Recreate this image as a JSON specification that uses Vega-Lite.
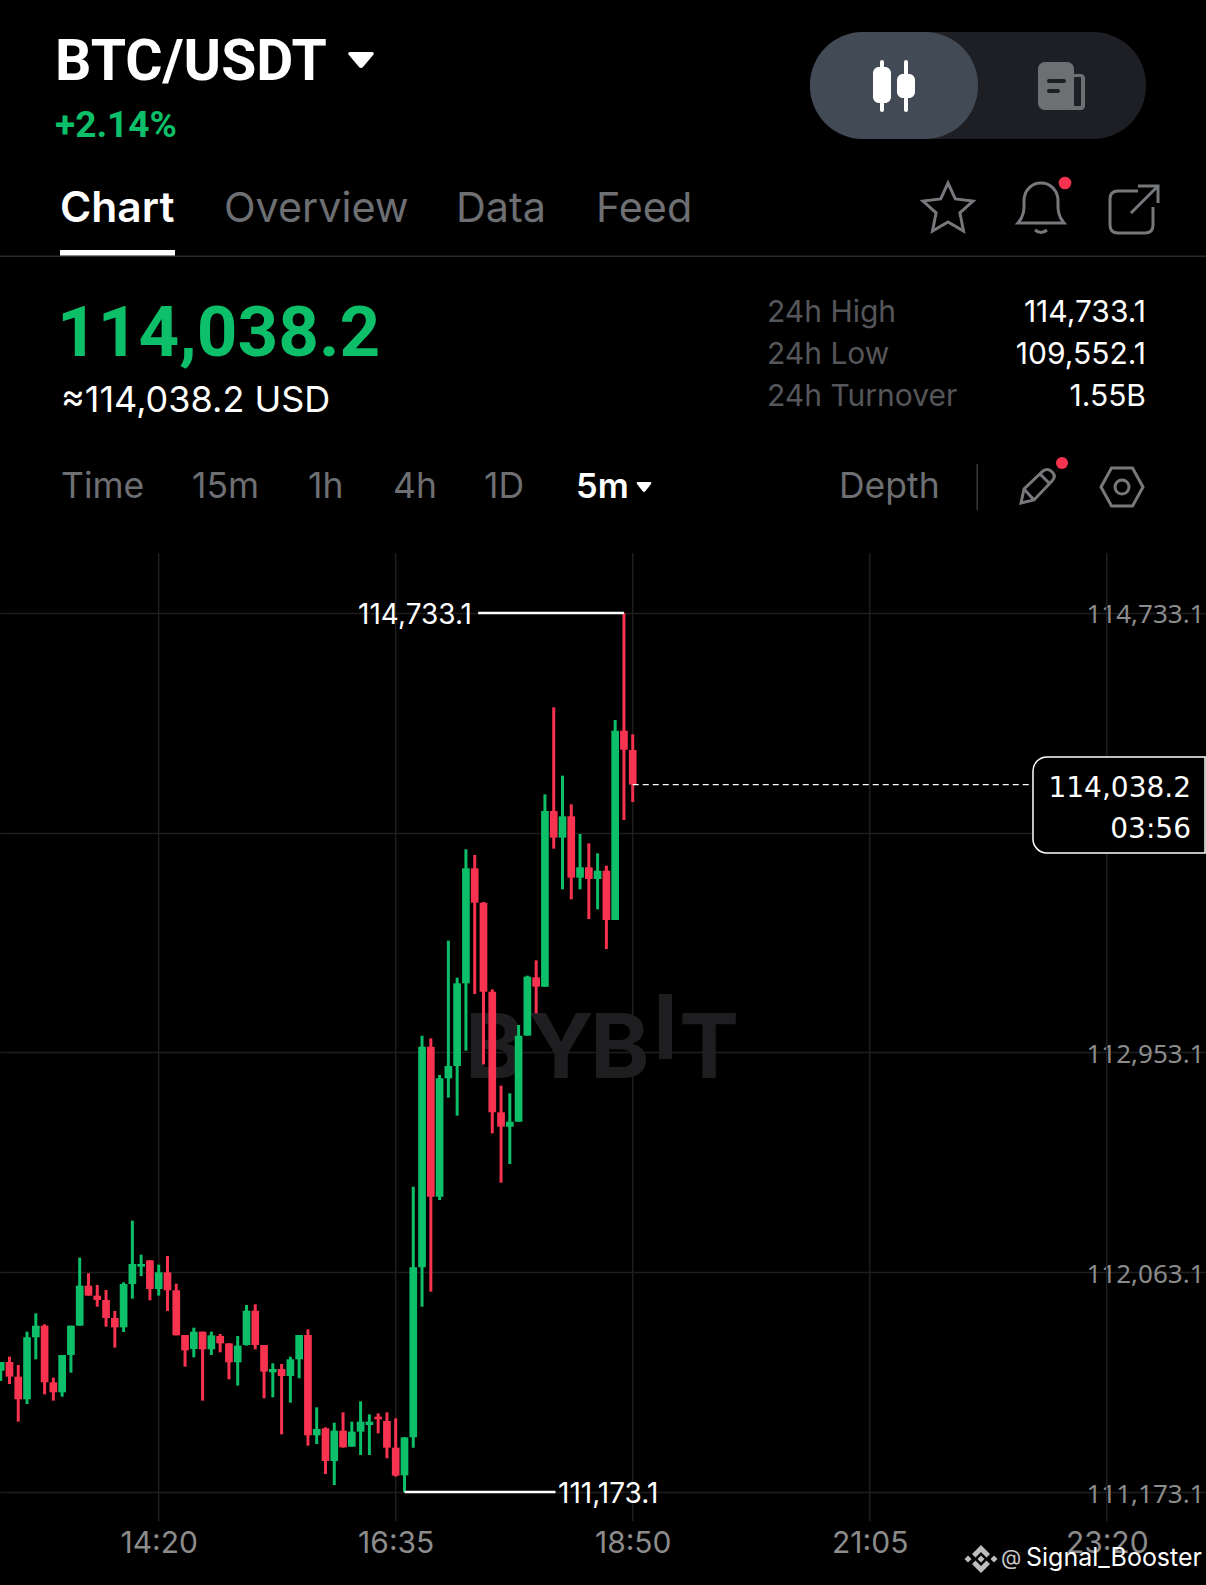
{
  "$schema": "https://vega.github.io/schema/vega-lite/v6.json",
  "width": 1206,
  "height": 1585,
  "padding": 0,
  "autosize": "none",
  "background": "#000000",
  "config": {
    "view": {"stroke": null},
    "style": {
      "head": {"font": "Roboto", "fontSize": 57, "fontWeight": 700, "color": "#ffffff", "align": "left", "baseline": "alphabetic"},
      "change": {"font": "Roboto", "fontSize": 37, "fontWeight": 700, "color": "#0CBF68", "align": "left", "baseline": "alphabetic"},
      "tabOn": {"font": "Inter", "fontSize": 42.5, "fontWeight": 600, "color": "#ffffff", "align": "left", "baseline": "alphabetic"},
      "tab": {"font": "Inter", "fontSize": 41.3, "fontWeight": 400, "color": "#6d6f72", "align": "left", "baseline": "alphabetic"},
      "price": {"font": "Roboto", "fontSize": 71, "fontWeight": 700, "color": "#0CBF68", "align": "left", "baseline": "alphabetic"},
      "usd": {"font": "Inter", "fontSize": 36, "fontWeight": 400, "color": "#ffffff", "align": "left", "baseline": "alphabetic"},
      "frame": {"font": "Inter", "fontSize": 35.5, "fontWeight": 400, "color": "#6d6f72", "align": "left", "baseline": "alphabetic"},
      "frameOn": {"font": "Inter", "fontSize": 34.5, "fontWeight": 600, "color": "#ffffff", "align": "left", "baseline": "alphabetic"},
      "statName": {"font": "Inter", "fontSize": 30, "fontWeight": 400, "color": "#55565a", "align": "left", "baseline": "alphabetic"},
      "statValue": {"font": "Inter", "fontSize": 30, "fontWeight": 400, "color": "#ffffff", "align": "right", "baseline": "alphabetic"},
      "mark": {"font": "Inter", "fontSize": 90, "fontWeight": 700, "color": "#1e1e20", "align": "left", "baseline": "alphabetic"},
      "foot": {"font": "Inter", "fontSize": 25, "fontWeight": 400, "color": "#ffffff", "align": "left", "baseline": "alphabetic"},
      "glyph": {"filled": false, "size": 4, "color": "#77787b", "strokeWidth": 3, "opacity": 1},
      "solid": {"filled": true, "opacity": 1}
    }
  },
  "datasets": {
    "candles": [
      {"t": "2025-09-02T12:50", "o": 111664.5, "h": 111699.6, "l": 111622.6, "c": 111699.6},
      {"t": "2025-09-02T12:55", "o": 111699.6, "h": 111721.2, "l": 111610.5, "c": 111640.2},
      {"t": "2025-09-02T13:00", "o": 111640.2, "h": 111687.5, "l": 111458.0, "c": 111548.4},
      {"t": "2025-09-02T13:05", "o": 111548.4, "h": 111822.5, "l": 111529.5, "c": 111799.5},
      {"t": "2025-09-02T13:10", "o": 111799.5, "h": 111896.7, "l": 111710.4, "c": 111846.8},
      {"t": "2025-09-02T13:15", "o": 111846.8, "h": 111852.2, "l": 111568.7, "c": 111617.3},
      {"t": "2025-09-02T13:20", "o": 111617.3, "h": 111636.2, "l": 111543.0, "c": 111576.8},
      {"t": "2025-09-02T13:25", "o": 111576.8, "h": 111728.0, "l": 111559.2, "c": 111728.0},
      {"t": "2025-09-02T13:30", "o": 111728.0, "h": 111846.8, "l": 111656.4, "c": 111846.8},
      {"t": "2025-09-02T13:35", "o": 111846.8, "h": 112122.2, "l": 111846.8, "c": 112008.8},
      {"t": "2025-09-02T13:40", "o": 112008.8, "h": 112058.7, "l": 111968.3, "c": 111968.3},
      {"t": "2025-09-02T13:45", "o": 111968.3, "h": 112011.5, "l": 111923.7, "c": 111950.7},
      {"t": "2025-09-02T13:50", "o": 111950.7, "h": 111991.2, "l": 111842.7, "c": 111877.8},
      {"t": "2025-09-02T13:55", "o": 111877.8, "h": 111906.2, "l": 111757.7, "c": 111840.0},
      {"t": "2025-09-02T14:00", "o": 111840.0, "h": 112022.3, "l": 111821.1, "c": 112015.5},
      {"t": "2025-09-02T14:05", "o": 112015.5, "h": 112272.0, "l": 111956.1, "c": 112096.5},
      {"t": "2025-09-02T14:10", "o": 112085.7, "h": 112134.3, "l": 112047.9, "c": 112096.5},
      {"t": "2025-09-02T14:15", "o": 112111.4, "h": 112111.4, "l": 111949.4, "c": 111995.3},
      {"t": "2025-09-02T14:20", "o": 111995.3, "h": 112093.8, "l": 111968.3, "c": 112062.8},
      {"t": "2025-09-02T14:25", "o": 112062.8, "h": 112128.9, "l": 111906.2, "c": 111989.9},
      {"t": "2025-09-02T14:30", "o": 111989.9, "h": 112016.9, "l": 111807.6, "c": 111807.6},
      {"t": "2025-09-02T14:35", "o": 111809.0, "h": 111809.0, "l": 111680.7, "c": 111746.9},
      {"t": "2025-09-02T14:40", "o": 111752.3, "h": 111838.7, "l": 111718.5, "c": 111822.5},
      {"t": "2025-09-02T14:45", "o": 111822.5, "h": 111822.5, "l": 111543.0, "c": 111750.9},
      {"t": "2025-09-02T14:50", "o": 111750.9, "h": 111822.5, "l": 111728.0, "c": 111807.6},
      {"t": "2025-09-02T14:55", "o": 111804.9, "h": 111813.0, "l": 111738.8, "c": 111775.2},
      {"t": "2025-09-02T15:00", "o": 111775.2, "h": 111775.2, "l": 111629.4, "c": 111698.3},
      {"t": "2025-09-02T15:05", "o": 111698.3, "h": 111804.9, "l": 111603.8, "c": 111765.8},
      {"t": "2025-09-02T15:10", "o": 111768.5, "h": 111930.5, "l": 111765.8, "c": 111907.5},
      {"t": "2025-09-02T15:15", "o": 111907.5, "h": 111933.2, "l": 111750.9, "c": 111768.5},
      {"t": "2025-09-02T15:20", "o": 111768.5, "h": 111768.5, "l": 111552.5, "c": 111660.5},
      {"t": "2025-09-02T15:25", "o": 111657.8, "h": 111694.2, "l": 111556.5, "c": 111671.3},
      {"t": "2025-09-02T15:30", "o": 111671.3, "h": 111691.5, "l": 111406.7, "c": 111642.9},
      {"t": "2025-09-02T15:35", "o": 111642.9, "h": 111721.2, "l": 111534.9, "c": 111710.4},
      {"t": "2025-09-02T15:40", "o": 111710.4, "h": 111809.0, "l": 111633.5, "c": 111809.0},
      {"t": "2025-09-02T15:45", "o": 111809.0, "h": 111831.9, "l": 111360.8, "c": 111402.6},
      {"t": "2025-09-02T15:50", "o": 111402.6, "h": 111516.0, "l": 111367.5, "c": 111428.3},
      {"t": "2025-09-02T15:55", "o": 111431.0, "h": 111435.0, "l": 111246.0, "c": 111298.7},
      {"t": "2025-09-02T16:00", "o": 111298.7, "h": 111453.9, "l": 111201.5, "c": 111421.5},
      {"t": "2025-09-02T16:05", "o": 111421.5, "h": 111495.8, "l": 111352.7, "c": 111354.0},
      {"t": "2025-09-02T16:10", "o": 111356.7, "h": 111458.0, "l": 111356.7, "c": 111417.5},
      {"t": "2025-09-02T16:15", "o": 111417.5, "h": 111540.3, "l": 111323.0, "c": 111458.0},
      {"t": "2025-09-02T16:20", "o": 111444.5, "h": 111487.7, "l": 111323.0, "c": 111458.0},
      {"t": "2025-09-02T16:25", "o": 111478.2, "h": 111491.7, "l": 111410.7, "c": 111467.4},
      {"t": "2025-09-02T16:30", "o": 111460.7, "h": 111495.8, "l": 111309.5, "c": 111352.7},
      {"t": "2025-09-02T16:35", "o": 111352.7, "h": 111471.5, "l": 111235.2, "c": 111239.3},
      {"t": "2025-09-02T16:40", "o": 111240.6, "h": 111394.5, "l": 111173.1, "c": 111394.5},
      {"t": "2025-09-02T16:45", "o": 111394.5, "h": 112409.7, "l": 111352.7, "c": 112083.0},
      {"t": "2025-09-02T16:50", "o": 112083.0, "h": 113021.3, "l": 111923.7, "c": 112976.7},
      {"t": "2025-09-02T16:55", "o": 112976.7, "h": 113010.5, "l": 111984.4, "c": 112369.2},
      {"t": "2025-09-02T17:00", "o": 112369.2, "h": 112862.0, "l": 112355.7, "c": 112848.5},
      {"t": "2025-09-02T17:05", "o": 112848.5, "h": 113406.0, "l": 112770.2, "c": 112898.4},
      {"t": "2025-09-02T17:10", "o": 112898.4, "h": 113256.2, "l": 112697.3, "c": 113233.2},
      {"t": "2025-09-02T17:15", "o": 113233.2, "h": 113775.9, "l": 112960.5, "c": 113699.0},
      {"t": "2025-09-02T17:20", "o": 113699.0, "h": 113753.0, "l": 113190.0, "c": 113559.9},
      {"t": "2025-09-02T17:25", "o": 113559.9, "h": 113562.6, "l": 112905.2, "c": 113199.5},
      {"t": "2025-09-02T17:30", "o": 113199.5, "h": 113208.9, "l": 112625.7, "c": 112710.8},
      {"t": "2025-09-02T17:35", "o": 112710.8, "h": 112818.8, "l": 112425.9, "c": 112652.7},
      {"t": "2025-09-02T17:40", "o": 112652.7, "h": 112787.7, "l": 112501.5, "c": 112673.0},
      {"t": "2025-09-02T17:45", "o": 112673.0, "h": 113064.5, "l": 112673.0, "c": 113021.3},
      {"t": "2025-09-02T17:50", "o": 113021.3, "h": 113264.3, "l": 113021.3, "c": 113260.2},
      {"t": "2025-09-02T17:55", "o": 113257.5, "h": 113326.4, "l": 113111.7, "c": 113219.7},
      {"t": "2025-09-02T18:00", "o": 113219.7, "h": 113998.7, "l": 113219.7, "c": 113931.2},
      {"t": "2025-09-02T18:05", "o": 113931.2, "h": 114351.0, "l": 113778.6, "c": 113823.2},
      {"t": "2025-09-02T18:10", "o": 113823.2, "h": 114074.3, "l": 113613.9, "c": 113909.6},
      {"t": "2025-09-02T18:15", "o": 113909.6, "h": 113958.2, "l": 113573.4, "c": 113661.2},
      {"t": "2025-09-02T18:20", "o": 113661.2, "h": 113838.0, "l": 113613.9, "c": 113703.0},
      {"t": "2025-09-02T18:25", "o": 113703.0, "h": 113800.2, "l": 113493.8, "c": 113655.8},
      {"t": "2025-09-02T18:30", "o": 113655.8, "h": 113759.7, "l": 113532.9, "c": 113689.5},
      {"t": "2025-09-02T18:35", "o": 113689.5, "h": 113709.8, "l": 113372.3, "c": 113489.7},
      {"t": "2025-09-02T18:40", "o": 113489.7, "h": 114299.7, "l": 113489.7, "c": 114256.5},
      {"t": "2025-09-02T18:45", "o": 114256.5, "h": 114733.1, "l": 113894.7, "c": 114179.6},
      {"t": "2025-09-02T18:50", "o": 114178.2, "h": 114241.7, "l": 113967.6, "c": 114038.2}
    ],
    "extremes": [
      {"label": "114,733.1", "price": 114733.1, "t": "2025-09-02T18:45", "from": "2025-09-02T17:22", "labelAt": "2025-09-02T16:46"},
      {"label": "111,173.1", "price": 111173.1, "t": "2025-09-02T16:40", "from": "2025-09-02T18:06", "labelAt": "2025-09-02T18:36"}
    ],
    "gridTimes": [
      {"t": "2025-09-02T14:20"},
      {"t": "2025-09-02T16:35"},
      {"t": "2025-09-02T18:50"},
      {"t": "2025-09-02T21:05"},
      {"t": "2025-09-02T23:20"}
    ],
    "lastPrice": [
      {"t": "2025-09-02T18:50", "to": "2025-09-02T22:37", "price": 114038.2}
    ],
    "tagBox": [
      {"t": "2025-09-02T22:38", "to": "2025-09-03T00:16", "top": 114149.9, "bottom": 113761.1}
    ],
    "tagText": [
      {"label": "114,038.2", "t": "2025-09-03T00:08", "price": 114018.4},
      {"label": "03:56", "t": "2025-09-03T00:08", "price": 113852.3}
    ]
  },
  "layer": [
    {
      "data": {"name": "gridTimes"},
      "mark": {"type": "rule", "color": "#1e1e20", "strokeWidth": 1.5},
      "encoding": {
        "x": {
          "field": "t",
          "type": "temporal",
          "scale": {"domain": ["2025-09-02T12:49:36", "2025-09-03T00:16:33"]},
          "axis": {
            "orient": "bottom",
            "offset": -64,
            "title": null,
            "grid": false,
            "domain": false,
            "ticks": false,
            "format": "%H:%M",
            "values": [
              {"year": 2025, "month": 9, "date": 2, "hours": 14, "minutes": 20},
              {"year": 2025, "month": 9, "date": 2, "hours": 16, "minutes": 35},
              {"year": 2025, "month": 9, "date": 2, "hours": 18, "minutes": 50},
              {"year": 2025, "month": 9, "date": 2, "hours": 21, "minutes": 5},
              {"year": 2025, "month": 9, "date": 2, "hours": 23, "minutes": 20}
            ],
            "labelFont": "Inter",
            "labelFontSize": 30,
            "labelColor": "#8c8c8c",
            "labelPadding": 7,
            "labelOverlap": false
          }
        },
        "y": {
          "datum": 114976.0,
          "type": "quantitative",
          "scale": {"domain": [110796.45, 117215.7], "nice": false, "zero": false},
          "axis": {
            "orient": "right",
            "title": null,
            "grid": true,
            "gridColor": "#1e1e20",
            "gridWidth": 1.5,
            "domain": false,
            "ticks": false,
            "format": ",.1f",
            "values": [114733.1, 113843.1, 112953.1, 112063.1, 111173.1],
            "labelExpr": "datum.value == 113843.1 ? '' : datum.label",
            "labelFont": "Noto Sans",
            "labelFontSize": 26,
            "labelColor": "#8c8c8c",
            "labelAlign": "right",
            "labelPadding": -2,
            "labelOffset": 2,
            "labelOverlap": false
          }
        },
        "y2": {"datum": 111055.7}
      }
    },
    {
      "data": {"values": [{}]},
      "layer": [
        {"mark": {"type": "rect", "color": "#1d1f24", "cornerRadius": 53}, "encoding": {"x": {"datum": 810, "axis": null, "scale": {"domain": [0, 1206], "nice": false}}, "x2": {"datum": 1146}, "y": {"datum": 32, "axis": null, "scale": {"domain": [0, 1585], "nice": false, "reverse": true}}, "y2": {"datum": 139}}},
        {"mark": {"type": "rect", "color": "#424a56", "cornerRadius": 53}, "encoding": {"x": {"datum": 810, "axis": null}, "x2": {"datum": 978}, "y": {"datum": 32, "axis": null}, "y2": {"datum": 139}}},
        {"mark": {"type": "rect", "color": "#ffffff", "cornerRadius": 6}, "encoding": {"x": {"datum": 873, "axis": null}, "x2": {"datum": 891}, "y": {"datum": 67, "axis": null}, "y2": {"datum": 103}}},
        {"mark": {"type": "rect", "color": "#ffffff", "cornerRadius": 2}, "encoding": {"x": {"datum": 880, "axis": null}, "x2": {"datum": 884}, "y": {"datum": 60, "axis": null}, "y2": {"datum": 112}}},
        {"mark": {"type": "rect", "color": "#ffffff", "cornerRadius": 6}, "encoding": {"x": {"datum": 897, "axis": null}, "x2": {"datum": 915}, "y": {"datum": 74, "axis": null}, "y2": {"datum": 98}}},
        {"mark": {"type": "rect", "color": "#ffffff", "cornerRadius": 2}, "encoding": {"x": {"datum": 904, "axis": null}, "x2": {"datum": 908}, "y": {"datum": 60, "axis": null}, "y2": {"datum": 112}}},
        {"mark": {"type": "rect", "color": "#6e6f73", "cornerRadius": 4}, "encoding": {"x": {"datum": 1060, "axis": null}, "x2": {"datum": 1085}, "y": {"datum": 74, "axis": null}, "y2": {"datum": 110}}},
        {"mark": {"type": "rect", "color": "#1d1f24", "cornerRadius": 1}, "encoding": {"x": {"datum": 1074, "axis": null}, "x2": {"datum": 1081}, "y": {"datum": 77, "axis": null}, "y2": {"datum": 106}}},
        {"mark": {"type": "rect", "color": "#6e6f73", "cornerRadius": 7}, "encoding": {"x": {"datum": 1038, "axis": null}, "x2": {"datum": 1074}, "y": {"datum": 62, "axis": null}, "y2": {"datum": 110}}},
        {"mark": {"type": "rect", "color": "#1d1f24", "cornerRadius": 2}, "encoding": {"x": {"datum": 1047, "axis": null}, "x2": {"datum": 1066}, "y": {"datum": 79, "axis": null}, "y2": {"datum": 83}}},
        {"mark": {"type": "rect", "color": "#1d1f24", "cornerRadius": 2}, "encoding": {"x": {"datum": 1047, "axis": null}, "x2": {"datum": 1060}, "y": {"datum": 89, "axis": null}, "y2": {"datum": 93}}},

        {"mark": {"type": "text", "style": "head", "text": "BTC/USDT"}, "encoding": {"x": {"datum": 55, "axis": null}, "y": {"datum": 80, "axis": null}}},
        {"mark": {"type": "point", "style": "solid", "shape": "M-11,-8 L11,-8 Q13.5,-8 12.5,-5.5 L2,7 Q0,9 -2,7 L-12.5,-5.5 Q-13.5,-8 -11,-8 Z", "size": 4, "color": "#ffffff"}, "encoding": {"x": {"datum": 361, "axis": null}, "y": {"datum": 60, "axis": null}}},
        {"mark": {"type": "text", "style": "change", "text": "+2.14%"}, "encoding": {"x": {"datum": 55, "axis": null}, "y": {"datum": 137, "axis": null}}},

        {"mark": {"type": "text", "style": "tabOn", "text": "Chart"}, "encoding": {"x": {"datum": 60, "axis": null}, "y": {"datum": 222, "axis": null}}},
        {"mark": {"type": "text", "style": "tab", "text": "Overview"}, "encoding": {"x": {"datum": 224, "axis": null}, "y": {"datum": 222, "axis": null}}},
        {"mark": {"type": "text", "style": "tab", "text": "Data"}, "encoding": {"x": {"datum": 456, "axis": null}, "y": {"datum": 222, "axis": null}}},
        {"mark": {"type": "text", "style": "tab", "text": "Feed"}, "encoding": {"x": {"datum": 596, "axis": null}, "y": {"datum": 222, "axis": null}}},
        {"mark": {"type": "rect", "color": "#2a2a2c"}, "encoding": {"x": {"datum": 0, "axis": null}, "x2": {"datum": 1206}, "y": {"datum": 255.5, "axis": null}, "y2": {"datum": 257}}},
        {"mark": {"type": "rect", "color": "#ffffff"}, "encoding": {"x": {"datum": 60, "axis": null}, "x2": {"datum": 175}, "y": {"datum": 250, "axis": null}, "y2": {"datum": 255.5}}},

        {"mark": {"type": "point", "style": "glyph", "shape": "M0,-26 L7.3,-10.1 L25,-8 L11.9,3.9 L15.5,22 L0,13 L-15.5,22 L-11.9,3.9 L-25,-8 L-7.3,-10.1 Z"}, "encoding": {"x": {"datum": 948, "axis": null}, "y": {"datum": 209, "axis": null}}},
        {"mark": {"type": "point", "style": "glyph", "shape": "M-23,18 C-16,10 -17,2 -17,-4 C-17,-15 -9,-22 0,-22 C9,-22 17,-15 17,-4 C17,2 16,10 23,18 Z M-6,25 Q0,30 6,25"}, "encoding": {"x": {"datum": 1041, "axis": null}, "y": {"datum": 205, "axis": null}}},
        {"mark": {"type": "point", "style": "solid", "shape": "circle", "size": 160, "color": "#F7334F"}, "encoding": {"x": {"datum": 1065, "axis": null}, "y": {"datum": 183, "axis": null}}},
        {"mark": {"type": "point", "style": "glyph", "shape": "M4,-19 L-16,-19 Q-24,-19 -24,-11 L-24,15 Q-24,23 -16,23 L11,23 Q19,23 19,15 L19,-3 M-3,3 L24,-24 M4,-24 L24,-24 L24,-7"}, "encoding": {"x": {"datum": 1134, "axis": null}, "y": {"datum": 210, "axis": null}}},

        {"mark": {"type": "text", "style": "price", "text": "114,038.2"}, "encoding": {"x": {"datum": 57, "axis": null}, "y": {"datum": 356, "axis": null}}},
        {"mark": {"type": "text", "style": "usd", "text": "≈114,038.2 USD"}, "encoding": {"x": {"datum": 61, "axis": null}, "y": {"datum": 412, "axis": null}}},
        {"mark": {"type": "text", "style": "statName", "text": "24h High"}, "encoding": {"x": {"datum": 767, "axis": null}, "y": {"datum": 322, "axis": null}}},
        {"mark": {"type": "text", "style": "statName", "text": "24h Low"}, "encoding": {"x": {"datum": 767, "axis": null}, "y": {"datum": 364, "axis": null}}},
        {"mark": {"type": "text", "style": "statName", "text": "24h Turnover"}, "encoding": {"x": {"datum": 767, "axis": null}, "y": {"datum": 406, "axis": null}}},
        {"mark": {"type": "text", "style": "statValue", "text": "114,733.1"}, "encoding": {"x": {"datum": 1146, "axis": null}, "y": {"datum": 322, "axis": null}}},
        {"mark": {"type": "text", "style": "statValue", "text": "109,552.1"}, "encoding": {"x": {"datum": 1146, "axis": null}, "y": {"datum": 364, "axis": null}}},
        {"mark": {"type": "text", "style": "statValue", "text": "1.55B"}, "encoding": {"x": {"datum": 1146, "axis": null}, "y": {"datum": 406, "axis": null}}},

        {"mark": {"type": "text", "style": "frame", "text": "Time"}, "encoding": {"x": {"datum": 61, "axis": null}, "y": {"datum": 498, "axis": null}}},
        {"mark": {"type": "text", "style": "frame", "text": "15m"}, "encoding": {"x": {"datum": 192, "axis": null}, "y": {"datum": 498, "axis": null}}},
        {"mark": {"type": "text", "style": "frame", "text": "1h"}, "encoding": {"x": {"datum": 308, "axis": null}, "y": {"datum": 498, "axis": null}}},
        {"mark": {"type": "text", "style": "frame", "text": "4h"}, "encoding": {"x": {"datum": 393, "axis": null}, "y": {"datum": 498, "axis": null}}},
        {"mark": {"type": "text", "style": "frame", "text": "1D"}, "encoding": {"x": {"datum": 484, "axis": null}, "y": {"datum": 498, "axis": null}}},
        {"mark": {"type": "text", "style": "frameOn", "text": "5m"}, "encoding": {"x": {"datum": 576, "axis": null}, "y": {"datum": 498, "axis": null}}},
        {"mark": {"type": "point", "style": "solid", "shape": "M-6,-5 L6,-5 Q8,-5 7,-3 L1.5,4 Q0,6 -1.5,4 L-7,-3 Q-8,-5 -6,-5 Z", "size": 4, "color": "#ffffff"}, "encoding": {"x": {"datum": 644, "axis": null}, "y": {"datum": 487, "axis": null}}},
        {"mark": {"type": "text", "style": "frame", "text": "Depth"}, "encoding": {"x": {"datum": 839, "axis": null}, "y": {"datum": 498, "axis": null}}},
        {"mark": {"type": "rect", "color": "#3a3a3c"}, "encoding": {"x": {"datum": 976.5, "axis": null}, "x2": {"datum": 978, "axis": null}, "y": {"datum": 464, "axis": null}, "y2": {"datum": 510}}},
        {"mark": {"type": "point", "style": "glyph", "shape": "M-17,17 L-14,3 L5,-15 Q9,-18 13,-15 L15,-13 Q18,-9 14,-5 L-4,14 Z M-14,3 L-4,14 M2,-12 L12,-2"}, "encoding": {"x": {"datum": 1038, "axis": null}, "y": {"datum": 486, "axis": null}}},
        {"mark": {"type": "point", "style": "solid", "shape": "circle", "size": 144, "color": "#F7334F"}, "encoding": {"x": {"datum": 1062, "axis": null}, "y": {"datum": 463, "axis": null}}},
        {"mark": {"type": "point", "style": "glyph", "shape": "M-21,0 L-10.5,-19 L10.5,-19 L21,0 L10.5,19 L-10.5,19 Z M7,0 A7,7 0 1,1 -7,0 A7,7 0 1,1 7,0 Z"}, "encoding": {"x": {"datum": 1122, "axis": null}, "y": {"datum": 487, "axis": null}}},

        {"mark": {"type": "text", "style": "mark", "text": "B"}, "encoding": {"x": {"datum": 465, "axis": null}, "y": {"datum": 1078, "axis": null}}},
        {"mark": {"type": "text", "style": "mark", "text": "Y"}, "encoding": {"x": {"datum": 528, "axis": null}, "y": {"datum": 1078, "axis": null}}},
        {"mark": {"type": "text", "style": "mark", "text": "B"}, "encoding": {"x": {"datum": 590, "axis": null}, "y": {"datum": 1078, "axis": null}}},
        {"mark": {"type": "rect", "color": "#1e1e20"}, "encoding": {"x": {"datum": 659, "axis": null}, "x2": {"datum": 672}, "y": {"datum": 994, "axis": null}, "y2": {"datum": 1059}}},
        {"mark": {"type": "text", "style": "mark", "text": "T"}, "encoding": {"x": {"datum": 679, "axis": null}, "y": {"datum": 1078, "axis": null}}}
      ]
    },
    {
      "layer": [
        {
          "data": {"name": "tagBox"},
          "mark": {"type": "rect", "fill": "#000000", "stroke": "#ffffff", "strokeWidth": 1.5, "cornerRadiusTopLeft": 14, "cornerRadiusBottomLeft": 14},
          "encoding": {
            "x": {"field": "t", "type": "temporal", "axis": null, "scale": {"domain": ["2025-09-02T12:49:36", "2025-09-03T00:16:33"], "padding": 0}},
            "x2": {"field": "to"},
            "y": {"field": "top", "type": "quantitative", "axis": null, "scale": {"domain": [110796.45, 117215.7], "nice": false, "zero": false}},
            "y2": {"field": "bottom"}
          }
        },
        {
          "data": {"name": "candles"},
          "mark": {"type": "rule", "strokeWidth": 3},
          "encoding": {
            "x": {"field": "t", "type": "temporal", "axis": null},
            "y": {"field": "l", "type": "quantitative", "axis": null},
            "y2": {"field": "h"},
            "color": {"condition": {"test": "datum.c >= datum.o", "value": "#0CBF68"}, "value": "#F7334F"}
          }
        },
        {
          "data": {"name": "candles"},
          "mark": {"type": "bar", "width": 7.7},
          "encoding": {
            "x": {"field": "t", "type": "temporal", "axis": null},
            "y": {"field": "o", "type": "quantitative", "axis": null},
            "y2": {"field": "c"},
            "color": {"condition": {"test": "datum.c >= datum.o", "value": "#0CBF68"}, "value": "#F7334F"}
          }
        },
        {
          "data": {"name": "extremes"},
          "mark": {"type": "rule", "color": "#ffffff", "strokeWidth": 2.5},
          "encoding": {
            "x": {"field": "t", "type": "temporal", "axis": null},
            "x2": {"field": "from"},
            "y": {"field": "price", "type": "quantitative", "axis": null}
          }
        },
        {
          "data": {"name": "extremes"},
          "mark": {"type": "text", "font": "Inter", "fontSize": 28, "color": "#ffffff", "dy": 3},
          "encoding": {
            "x": {"field": "labelAt", "type": "temporal", "axis": null},
            "y": {"field": "price", "type": "quantitative", "axis": null},
            "text": {"field": "label"}
          }
        },
        {
          "data": {"name": "lastPrice"},
          "mark": {"type": "rule", "color": "#ffffff", "strokeWidth": 1.3, "strokeDash": [6, 4]},
          "encoding": {
            "x": {"field": "t", "type": "temporal", "axis": null},
            "x2": {"field": "to"},
            "y": {"field": "price", "type": "quantitative", "axis": null}
          }
        },
        {
          "data": {"name": "tagText"},
          "mark": {"type": "text", "font": "DejaVu Sans", "fontSize": 28, "color": "#ffffff", "align": "right"},
          "encoding": {
            "x": {"field": "t", "type": "temporal", "axis": null},
            "y": {"field": "price", "type": "quantitative", "axis": null},
            "text": {"field": "label"}
          }
        }
      ]
    },
    {
      "data": {"values": [{}]},
      "layer": [
        {"mark": {"type": "point", "style": "solid", "shape": "M0,-14 L9,-5 L5.5,-1.5 L0,-7 L-5.5,-1.5 L-9,-5 Z M0,14 L9,5 L5.5,1.5 L0,7 L-5.5,1.5 L-9,5 Z M0,-3.5 L3.5,0 L0,3.5 L-3.5,0 Z M-13,-3.5 L-9.5,0 L-13,3.5 L-16.5,0 Z M13,-3.5 L16.5,0 L13,3.5 L9.5,0 Z", "size": 4, "color": "#bdbdbd"}, "encoding": {"x": {"datum": 981, "axis": null, "scale": {"domain": [0, 1206], "nice": false}}, "y": {"datum": 1559, "axis": null, "scale": {"domain": [0, 1585], "nice": false, "reverse": true}}}},
        {"mark": {"type": "text", "style": "foot", "fontSize": 21, "text": "@", "color": "#c8c8c8"}, "encoding": {"x": {"datum": 1001, "axis": null}, "y": {"datum": 1565, "axis": null}}},
        {"mark": {"type": "text", "style": "foot", "text": "Signal_Booster"}, "encoding": {"x": {"datum": 1026, "axis": null}, "y": {"datum": 1566, "axis": null}}}
      ]
    }
  ],
  "resolve": {"scale": {"x": "independent", "y": "independent"}}
}
